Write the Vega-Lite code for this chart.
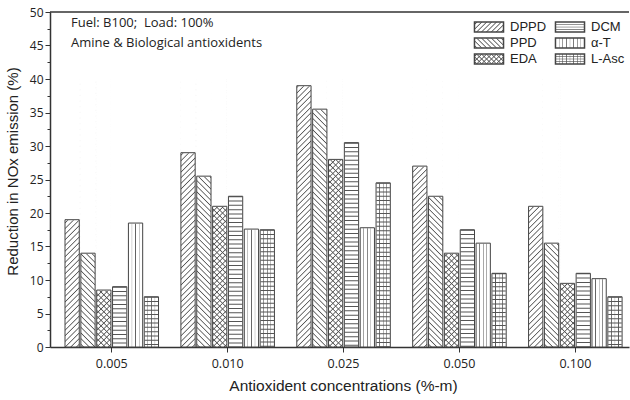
{
"$schema":"https://vega.github.io/schema/vega-lite/v6.json",
"width":579,"height":335,"autosize":"none",
"padding":{"left":50,"top":12,"right":1,"bottom":53},
"background":"white",
"params":[
 {"name":"gSlash","value":{"gradient":"linear","x1":0,"y1":0,"x2":1.202,"y2":0.4145,"stops":[{"offset":0.0325,"color":"#fff"},{"offset":0.0625,"color":"#555"},{"offset":0.0925,"color":"#fff"},{"offset":0.1575,"color":"#fff"},{"offset":0.1875,"color":"#555"},{"offset":0.2175,"color":"#fff"},{"offset":0.2825,"color":"#fff"},{"offset":0.3125,"color":"#555"},{"offset":0.3425,"color":"#fff"},{"offset":0.4075,"color":"#fff"},{"offset":0.4375,"color":"#555"},{"offset":0.4675,"color":"#fff"},{"offset":0.5325,"color":"#fff"},{"offset":0.5625,"color":"#555"},{"offset":0.5925,"color":"#fff"},{"offset":0.6575,"color":"#fff"},{"offset":0.6875,"color":"#555"},{"offset":0.7175,"color":"#fff"},{"offset":0.7825,"color":"#fff"},{"offset":0.8125,"color":"#555"},{"offset":0.8425,"color":"#fff"},{"offset":0.9075,"color":"#fff"},{"offset":0.9375,"color":"#555"},{"offset":0.9675,"color":"#fff"}]}},
 {"name":"gVert","value":{"gradient":"linear","x1":0,"y1":0,"x2":1,"y2":0,"stops":[{"offset":0.105,"color":"#fff"},{"offset":0.125,"color":"#555"},{"offset":0.145,"color":"#fff"},{"offset":0.23,"color":"#fff"},{"offset":0.25,"color":"#555"},{"offset":0.27,"color":"#fff"},{"offset":0.355,"color":"#fff"},{"offset":0.375,"color":"#555"},{"offset":0.395,"color":"#fff"},{"offset":0.48,"color":"#fff"},{"offset":0.5,"color":"#555"},{"offset":0.52,"color":"#fff"},{"offset":0.605,"color":"#fff"},{"offset":0.625,"color":"#555"},{"offset":0.645,"color":"#fff"},{"offset":0.73,"color":"#fff"},{"offset":0.75,"color":"#555"},{"offset":0.77,"color":"#fff"},{"offset":0.855,"color":"#fff"},{"offset":0.875,"color":"#555"},{"offset":0.895,"color":"#fff"}]}},
 {"name":"gBack","value":{"gradient":"linear","x1":0,"y1":1,"x2":1.202,"y2":0.5855,"stops":[{"offset":0.0325,"color":"rgba(85,85,85,0)"},{"offset":0.0625,"color":"#555"},{"offset":0.0925,"color":"rgba(85,85,85,0)"},{"offset":0.1575,"color":"rgba(85,85,85,0)"},{"offset":0.1875,"color":"#555"},{"offset":0.2175,"color":"rgba(85,85,85,0)"},{"offset":0.2825,"color":"rgba(85,85,85,0)"},{"offset":0.3125,"color":"#555"},{"offset":0.3425,"color":"rgba(85,85,85,0)"},{"offset":0.4075,"color":"rgba(85,85,85,0)"},{"offset":0.4375,"color":"#555"},{"offset":0.4675,"color":"rgba(85,85,85,0)"},{"offset":0.5325,"color":"rgba(85,85,85,0)"},{"offset":0.5625,"color":"#555"},{"offset":0.5925,"color":"rgba(85,85,85,0)"},{"offset":0.6575,"color":"rgba(85,85,85,0)"},{"offset":0.6875,"color":"#555"},{"offset":0.7175,"color":"rgba(85,85,85,0)"},{"offset":0.7825,"color":"rgba(85,85,85,0)"},{"offset":0.8125,"color":"#555"},{"offset":0.8425,"color":"rgba(85,85,85,0)"},{"offset":0.9075,"color":"rgba(85,85,85,0)"},{"offset":0.9375,"color":"#555"},{"offset":0.9675,"color":"rgba(85,85,85,0)"}]}},
 {"name":"gHoriz","value":{"gradient":"linear","x1":0,"y1":0,"x2":0,"y2":1,"stops":[{"offset":0.2,"color":"rgba(85,85,85,0)"},{"offset":0.27,"color":"#555"},{"offset":0.34,"color":"rgba(85,85,85,0)"},{"offset":0.43,"color":"rgba(85,85,85,0)"},{"offset":0.5,"color":"#555"},{"offset":0.57,"color":"rgba(85,85,85,0)"},{"offset":0.66,"color":"rgba(85,85,85,0)"},{"offset":0.73,"color":"#555"},{"offset":0.8,"color":"rgba(85,85,85,0)"}]}}
],
"config":{"view":{"stroke":null},"font":"Liberation Sans",
 "axis":{"labelFont":"Open Sans","labelColor":"#222","tickColor":"#333","domainColor":"#333","domainWidth":1.5,"titleFont":"Liberation Sans","titleFontWeight":"normal","titleColor":"#222","titleFontSize":15.5,"grid":false,"zindex":1},
 "axisX":{"labelAngle":0,"labelFontSize":12.5,"labelPadding":5,"tickSize":5,"titlePadding":9,"titleX":293},
 "axisY":{"labelFontSize":12,"labelPadding":2,"titlePadding":9,"titleFontSize":15,"titleY":159}},
"title":{"text":["Fuel: B100;\u00a0 Load: 100%","Amine & Biological antioxidents"],"anchor":"start","frame":"group","orient":"top","offset":-44,"dx":21,"font":"Open Sans","fontSize":13,"fontWeight":"normal","color":"#222","lineHeight":20,"baseline":"top"},
"data":{"values":[
{"conc":"0.005","series":"DPPD","value":19},{"conc":"0.005","series":"PPD","value":14},{"conc":"0.005","series":"EDA","value":8.5},{"conc":"0.005","series":"DCM","value":9},{"conc":"0.005","series":"α-T","value":18.5},{"conc":"0.005","series":"L-Asc","value":7.5},
{"conc":"0.010","series":"DPPD","value":29},{"conc":"0.010","series":"PPD","value":25.5},{"conc":"0.010","series":"EDA","value":21},{"conc":"0.010","series":"DCM","value":22.5},{"conc":"0.010","series":"α-T","value":17.6},{"conc":"0.010","series":"L-Asc","value":17.5},
{"conc":"0.025","series":"DPPD","value":39},{"conc":"0.025","series":"PPD","value":35.5},{"conc":"0.025","series":"EDA","value":28},{"conc":"0.025","series":"DCM","value":30.5},{"conc":"0.025","series":"α-T","value":17.8},{"conc":"0.025","series":"L-Asc","value":24.5},
{"conc":"0.050","series":"DPPD","value":27},{"conc":"0.050","series":"PPD","value":22.5},{"conc":"0.050","series":"EDA","value":14},{"conc":"0.050","series":"DCM","value":17.5},{"conc":"0.050","series":"α-T","value":15.5},{"conc":"0.050","series":"L-Asc","value":11},
{"conc":"0.100","series":"DPPD","value":21},{"conc":"0.100","series":"PPD","value":15.5},{"conc":"0.100","series":"EDA","value":9.5},{"conc":"0.100","series":"DCM","value":11},{"conc":"0.100","series":"α-T","value":10.2},{"conc":"0.100","series":"L-Asc","value":7.5}
]},
"layer":[
{"transform":[{"filter":"datum.series==='DPPD'||datum.series==='EDA'"}],
 "mark":{"type":"bar","fill":{"gradient":"linear","x1":0,"y1":0,"x2":0.0559,"y2":1.0503,"stops":[
{"offset":0.006,"color":"#fff"},{"offset":0.010,"color":"#555"},{"offset":0.014,"color":"#fff"},
{"offset":0.026,"color":"#fff"},{"offset":0.030,"color":"#555"},{"offset":0.034,"color":"#fff"},
{"offset":0.046,"color":"#fff"},{"offset":0.050,"color":"#555"},{"offset":0.054,"color":"#fff"},
{"offset":0.066,"color":"#fff"},{"offset":0.070,"color":"#555"},{"offset":0.074,"color":"#fff"},
{"offset":0.086,"color":"#fff"},{"offset":0.090,"color":"#555"},{"offset":0.094,"color":"#fff"},
{"offset":0.106,"color":"#fff"},{"offset":0.110,"color":"#555"},{"offset":0.114,"color":"#fff"},
{"offset":0.126,"color":"#fff"},{"offset":0.130,"color":"#555"},{"offset":0.134,"color":"#fff"},
{"offset":0.146,"color":"#fff"},{"offset":0.150,"color":"#555"},{"offset":0.154,"color":"#fff"},
{"offset":0.166,"color":"#fff"},{"offset":0.170,"color":"#555"},{"offset":0.174,"color":"#fff"},
{"offset":0.186,"color":"#fff"},{"offset":0.190,"color":"#555"},{"offset":0.194,"color":"#fff"},
{"offset":0.206,"color":"#fff"},{"offset":0.210,"color":"#555"},{"offset":0.214,"color":"#fff"},
{"offset":0.226,"color":"#fff"},{"offset":0.230,"color":"#555"},{"offset":0.234,"color":"#fff"},
{"offset":0.246,"color":"#fff"},{"offset":0.250,"color":"#555"},{"offset":0.254,"color":"#fff"},
{"offset":0.266,"color":"#fff"},{"offset":0.270,"color":"#555"},{"offset":0.274,"color":"#fff"},
{"offset":0.286,"color":"#fff"},{"offset":0.290,"color":"#555"},{"offset":0.294,"color":"#fff"},
{"offset":0.306,"color":"#fff"},{"offset":0.310,"color":"#555"},{"offset":0.314,"color":"#fff"},
{"offset":0.326,"color":"#fff"},{"offset":0.330,"color":"#555"},{"offset":0.334,"color":"#fff"},
{"offset":0.346,"color":"#fff"},{"offset":0.350,"color":"#555"},{"offset":0.354,"color":"#fff"},
{"offset":0.366,"color":"#fff"},{"offset":0.370,"color":"#555"},{"offset":0.374,"color":"#fff"},
{"offset":0.386,"color":"#fff"},{"offset":0.390,"color":"#555"},{"offset":0.394,"color":"#fff"},
{"offset":0.406,"color":"#fff"},{"offset":0.410,"color":"#555"},{"offset":0.414,"color":"#fff"},
{"offset":0.426,"color":"#fff"},{"offset":0.430,"color":"#555"},{"offset":0.434,"color":"#fff"},
{"offset":0.446,"color":"#fff"},{"offset":0.450,"color":"#555"},{"offset":0.454,"color":"#fff"},
{"offset":0.466,"color":"#fff"},{"offset":0.470,"color":"#555"},{"offset":0.474,"color":"#fff"},
{"offset":0.486,"color":"#fff"},{"offset":0.490,"color":"#555"},{"offset":0.494,"color":"#fff"},
{"offset":0.506,"color":"#fff"},{"offset":0.510,"color":"#555"},{"offset":0.514,"color":"#fff"},
{"offset":0.526,"color":"#fff"},{"offset":0.530,"color":"#555"},{"offset":0.534,"color":"#fff"},
{"offset":0.546,"color":"#fff"},{"offset":0.550,"color":"#555"},{"offset":0.554,"color":"#fff"},
{"offset":0.566,"color":"#fff"},{"offset":0.570,"color":"#555"},{"offset":0.574,"color":"#fff"},
{"offset":0.586,"color":"#fff"},{"offset":0.590,"color":"#555"},{"offset":0.594,"color":"#fff"},
{"offset":0.606,"color":"#fff"},{"offset":0.610,"color":"#555"},{"offset":0.614,"color":"#fff"},
{"offset":0.626,"color":"#fff"},{"offset":0.630,"color":"#555"},{"offset":0.634,"color":"#fff"},
{"offset":0.646,"color":"#fff"},{"offset":0.650,"color":"#555"},{"offset":0.654,"color":"#fff"},
{"offset":0.666,"color":"#fff"},{"offset":0.670,"color":"#555"},{"offset":0.674,"color":"#fff"},
{"offset":0.686,"color":"#fff"},{"offset":0.690,"color":"#555"},{"offset":0.694,"color":"#fff"},
{"offset":0.706,"color":"#fff"},{"offset":0.710,"color":"#555"},{"offset":0.714,"color":"#fff"},
{"offset":0.726,"color":"#fff"},{"offset":0.730,"color":"#555"},{"offset":0.734,"color":"#fff"},
{"offset":0.746,"color":"#fff"},{"offset":0.750,"color":"#555"},{"offset":0.754,"color":"#fff"},
{"offset":0.766,"color":"#fff"},{"offset":0.770,"color":"#555"},{"offset":0.774,"color":"#fff"},
{"offset":0.786,"color":"#fff"},{"offset":0.790,"color":"#555"},{"offset":0.794,"color":"#fff"},
{"offset":0.806,"color":"#fff"},{"offset":0.810,"color":"#555"},{"offset":0.814,"color":"#fff"},
{"offset":0.826,"color":"#fff"},{"offset":0.830,"color":"#555"},{"offset":0.834,"color":"#fff"},
{"offset":0.846,"color":"#fff"},{"offset":0.850,"color":"#555"},{"offset":0.854,"color":"#fff"},
{"offset":0.866,"color":"#fff"},{"offset":0.870,"color":"#555"},{"offset":0.874,"color":"#fff"},
{"offset":0.886,"color":"#fff"},{"offset":0.890,"color":"#555"},{"offset":0.894,"color":"#fff"},
{"offset":0.906,"color":"#fff"},{"offset":0.910,"color":"#555"},{"offset":0.914,"color":"#fff"},
{"offset":0.926,"color":"#fff"},{"offset":0.930,"color":"#555"},{"offset":0.934,"color":"#fff"},
{"offset":0.946,"color":"#fff"},{"offset":0.950,"color":"#555"},{"offset":0.954,"color":"#fff"},
{"offset":0.966,"color":"#fff"},{"offset":0.970,"color":"#555"},{"offset":0.974,"color":"#fff"},
{"offset":0.986,"color":"#fff"},{"offset":0.990,"color":"#555"},{"offset":0.994,"color":"#fff"}]}},
 "encoding":{
  "x":{"field":"conc","type":"nominal","scale":{"domain":["0.005","0.010","0.025","0.050","0.100"],"paddingInner":0.193,"paddingOuter":0.0945,"align":0.685},"axis":{"title":"Antioxident concentrations (%-m)"}},
  "xOffset":{"field":"series","type":"nominal","scale":{"domain":["DPPD","PPD","EDA","DCM","α-T","L-Asc"],"paddingInner":0.1,"paddingOuter":0}},
  "y":{"datum":40,"type":"quantitative","scale":{"domain":[0,50],"nice":false},"axis":{"title":"Reduction in NOx emission (%)","values":[0,2.5,5,7.5,10,12.5,15,17.5,20,22.5,25,27.5,30,32.5,35,37.5,40,42.5,45,47.5,50],"labelExpr":"datum.value % 5 === 0 ? datum.value + '' : ''","tickSize":{"condition":{"test":"datum.value % 5 === 0","value":5},"value":3}}},
  "y2":{"datum":0}}},
{"transform":[{"filter":"datum.series==='PPD'||datum.series==='EDA'"}],
 "mark":{"type":"bar","fill":{"gradient":"linear","x1":0,"y1":1,"x2":0.0559,"y2":-0.0503,"stops":[
{"offset":0.006,"color":"rgba(85,85,85,0)"},{"offset":0.010,"color":"#555"},{"offset":0.014,"color":"rgba(85,85,85,0)"},
{"offset":0.026,"color":"rgba(85,85,85,0)"},{"offset":0.030,"color":"#555"},{"offset":0.034,"color":"rgba(85,85,85,0)"},
{"offset":0.046,"color":"rgba(85,85,85,0)"},{"offset":0.050,"color":"#555"},{"offset":0.054,"color":"rgba(85,85,85,0)"},
{"offset":0.066,"color":"rgba(85,85,85,0)"},{"offset":0.070,"color":"#555"},{"offset":0.074,"color":"rgba(85,85,85,0)"},
{"offset":0.086,"color":"rgba(85,85,85,0)"},{"offset":0.090,"color":"#555"},{"offset":0.094,"color":"rgba(85,85,85,0)"},
{"offset":0.106,"color":"rgba(85,85,85,0)"},{"offset":0.110,"color":"#555"},{"offset":0.114,"color":"rgba(85,85,85,0)"},
{"offset":0.126,"color":"rgba(85,85,85,0)"},{"offset":0.130,"color":"#555"},{"offset":0.134,"color":"rgba(85,85,85,0)"},
{"offset":0.146,"color":"rgba(85,85,85,0)"},{"offset":0.150,"color":"#555"},{"offset":0.154,"color":"rgba(85,85,85,0)"},
{"offset":0.166,"color":"rgba(85,85,85,0)"},{"offset":0.170,"color":"#555"},{"offset":0.174,"color":"rgba(85,85,85,0)"},
{"offset":0.186,"color":"rgba(85,85,85,0)"},{"offset":0.190,"color":"#555"},{"offset":0.194,"color":"rgba(85,85,85,0)"},
{"offset":0.206,"color":"rgba(85,85,85,0)"},{"offset":0.210,"color":"#555"},{"offset":0.214,"color":"rgba(85,85,85,0)"},
{"offset":0.226,"color":"rgba(85,85,85,0)"},{"offset":0.230,"color":"#555"},{"offset":0.234,"color":"rgba(85,85,85,0)"},
{"offset":0.246,"color":"rgba(85,85,85,0)"},{"offset":0.250,"color":"#555"},{"offset":0.254,"color":"rgba(85,85,85,0)"},
{"offset":0.266,"color":"rgba(85,85,85,0)"},{"offset":0.270,"color":"#555"},{"offset":0.274,"color":"rgba(85,85,85,0)"},
{"offset":0.286,"color":"rgba(85,85,85,0)"},{"offset":0.290,"color":"#555"},{"offset":0.294,"color":"rgba(85,85,85,0)"},
{"offset":0.306,"color":"rgba(85,85,85,0)"},{"offset":0.310,"color":"#555"},{"offset":0.314,"color":"rgba(85,85,85,0)"},
{"offset":0.326,"color":"rgba(85,85,85,0)"},{"offset":0.330,"color":"#555"},{"offset":0.334,"color":"rgba(85,85,85,0)"},
{"offset":0.346,"color":"rgba(85,85,85,0)"},{"offset":0.350,"color":"#555"},{"offset":0.354,"color":"rgba(85,85,85,0)"},
{"offset":0.366,"color":"rgba(85,85,85,0)"},{"offset":0.370,"color":"#555"},{"offset":0.374,"color":"rgba(85,85,85,0)"},
{"offset":0.386,"color":"rgba(85,85,85,0)"},{"offset":0.390,"color":"#555"},{"offset":0.394,"color":"rgba(85,85,85,0)"},
{"offset":0.406,"color":"rgba(85,85,85,0)"},{"offset":0.410,"color":"#555"},{"offset":0.414,"color":"rgba(85,85,85,0)"},
{"offset":0.426,"color":"rgba(85,85,85,0)"},{"offset":0.430,"color":"#555"},{"offset":0.434,"color":"rgba(85,85,85,0)"},
{"offset":0.446,"color":"rgba(85,85,85,0)"},{"offset":0.450,"color":"#555"},{"offset":0.454,"color":"rgba(85,85,85,0)"},
{"offset":0.466,"color":"rgba(85,85,85,0)"},{"offset":0.470,"color":"#555"},{"offset":0.474,"color":"rgba(85,85,85,0)"},
{"offset":0.486,"color":"rgba(85,85,85,0)"},{"offset":0.490,"color":"#555"},{"offset":0.494,"color":"rgba(85,85,85,0)"},
{"offset":0.506,"color":"rgba(85,85,85,0)"},{"offset":0.510,"color":"#555"},{"offset":0.514,"color":"rgba(85,85,85,0)"},
{"offset":0.526,"color":"rgba(85,85,85,0)"},{"offset":0.530,"color":"#555"},{"offset":0.534,"color":"rgba(85,85,85,0)"},
{"offset":0.546,"color":"rgba(85,85,85,0)"},{"offset":0.550,"color":"#555"},{"offset":0.554,"color":"rgba(85,85,85,0)"},
{"offset":0.566,"color":"rgba(85,85,85,0)"},{"offset":0.570,"color":"#555"},{"offset":0.574,"color":"rgba(85,85,85,0)"},
{"offset":0.586,"color":"rgba(85,85,85,0)"},{"offset":0.590,"color":"#555"},{"offset":0.594,"color":"rgba(85,85,85,0)"},
{"offset":0.606,"color":"rgba(85,85,85,0)"},{"offset":0.610,"color":"#555"},{"offset":0.614,"color":"rgba(85,85,85,0)"},
{"offset":0.626,"color":"rgba(85,85,85,0)"},{"offset":0.630,"color":"#555"},{"offset":0.634,"color":"rgba(85,85,85,0)"},
{"offset":0.646,"color":"rgba(85,85,85,0)"},{"offset":0.650,"color":"#555"},{"offset":0.654,"color":"rgba(85,85,85,0)"},
{"offset":0.666,"color":"rgba(85,85,85,0)"},{"offset":0.670,"color":"#555"},{"offset":0.674,"color":"rgba(85,85,85,0)"},
{"offset":0.686,"color":"rgba(85,85,85,0)"},{"offset":0.690,"color":"#555"},{"offset":0.694,"color":"rgba(85,85,85,0)"},
{"offset":0.706,"color":"rgba(85,85,85,0)"},{"offset":0.710,"color":"#555"},{"offset":0.714,"color":"rgba(85,85,85,0)"},
{"offset":0.726,"color":"rgba(85,85,85,0)"},{"offset":0.730,"color":"#555"},{"offset":0.734,"color":"rgba(85,85,85,0)"},
{"offset":0.746,"color":"rgba(85,85,85,0)"},{"offset":0.750,"color":"#555"},{"offset":0.754,"color":"rgba(85,85,85,0)"},
{"offset":0.766,"color":"rgba(85,85,85,0)"},{"offset":0.770,"color":"#555"},{"offset":0.774,"color":"rgba(85,85,85,0)"},
{"offset":0.786,"color":"rgba(85,85,85,0)"},{"offset":0.790,"color":"#555"},{"offset":0.794,"color":"rgba(85,85,85,0)"},
{"offset":0.806,"color":"rgba(85,85,85,0)"},{"offset":0.810,"color":"#555"},{"offset":0.814,"color":"rgba(85,85,85,0)"},
{"offset":0.826,"color":"rgba(85,85,85,0)"},{"offset":0.830,"color":"#555"},{"offset":0.834,"color":"rgba(85,85,85,0)"},
{"offset":0.846,"color":"rgba(85,85,85,0)"},{"offset":0.850,"color":"#555"},{"offset":0.854,"color":"rgba(85,85,85,0)"},
{"offset":0.866,"color":"rgba(85,85,85,0)"},{"offset":0.870,"color":"#555"},{"offset":0.874,"color":"rgba(85,85,85,0)"},
{"offset":0.886,"color":"rgba(85,85,85,0)"},{"offset":0.890,"color":"#555"},{"offset":0.894,"color":"rgba(85,85,85,0)"},
{"offset":0.906,"color":"rgba(85,85,85,0)"},{"offset":0.910,"color":"#555"},{"offset":0.914,"color":"rgba(85,85,85,0)"},
{"offset":0.926,"color":"rgba(85,85,85,0)"},{"offset":0.930,"color":"#555"},{"offset":0.934,"color":"rgba(85,85,85,0)"},
{"offset":0.946,"color":"rgba(85,85,85,0)"},{"offset":0.950,"color":"#555"},{"offset":0.954,"color":"rgba(85,85,85,0)"},
{"offset":0.966,"color":"rgba(85,85,85,0)"},{"offset":0.970,"color":"#555"},{"offset":0.974,"color":"rgba(85,85,85,0)"},
{"offset":0.986,"color":"rgba(85,85,85,0)"},{"offset":0.990,"color":"#555"},{"offset":0.994,"color":"rgba(85,85,85,0)"}]}},
 "encoding":{
  "x":{"field":"conc","type":"nominal","scale":{"domain":["0.005","0.010","0.025","0.050","0.100"],"paddingInner":0.193,"paddingOuter":0.0945,"align":0.685},"axis":{"title":"Antioxident concentrations (%-m)"}},
  "xOffset":{"field":"series","type":"nominal","scale":{"domain":["DPPD","PPD","EDA","DCM","α-T","L-Asc"],"paddingInner":0.1,"paddingOuter":0}},
  "y":{"datum":40,"type":"quantitative","scale":{"domain":[0,50],"nice":false},"axis":{"title":"Reduction in NOx emission (%)","values":[0,2.5,5,7.5,10,12.5,15,17.5,20,22.5,25,27.5,30,32.5,35,37.5,40,42.5,45,47.5,50],"labelExpr":"datum.value % 5 === 0 ? datum.value + '' : ''","tickSize":{"condition":{"test":"datum.value % 5 === 0","value":5},"value":3}}},
  "y2":{"datum":0}}},
{"transform":[{"filter":"datum.series==='α-T'||datum.series==='L-Asc'"}],
 "mark":{"type":"bar","fill":{"gradient":"linear","x1":0,"y1":0,"x2":1,"y2":0,"stops":[
{"offset":0.21,"color":"#fff"},{"offset":0.25,"color":"#555"},{"offset":0.29,"color":"#fff"},
{"offset":0.46,"color":"#fff"},{"offset":0.50,"color":"#555"},{"offset":0.54,"color":"#fff"},
{"offset":0.71,"color":"#fff"},{"offset":0.75,"color":"#555"},{"offset":0.79,"color":"#fff"}]}},
 "encoding":{
  "x":{"field":"conc","type":"nominal","scale":{"domain":["0.005","0.010","0.025","0.050","0.100"],"paddingInner":0.193,"paddingOuter":0.0945,"align":0.685},"axis":{"title":"Antioxident concentrations (%-m)"}},
  "xOffset":{"field":"series","type":"nominal","scale":{"domain":["DPPD","PPD","EDA","DCM","α-T","L-Asc"],"paddingInner":0.1,"paddingOuter":0}},
  "y":{"datum":40,"type":"quantitative","scale":{"domain":[0,50],"nice":false},"axis":{"title":"Reduction in NOx emission (%)","values":[0,2.5,5,7.5,10,12.5,15,17.5,20,22.5,25,27.5,30,32.5,35,37.5,40,42.5,45,47.5,50],"labelExpr":"datum.value % 5 === 0 ? datum.value + '' : ''","tickSize":{"condition":{"test":"datum.value % 5 === 0","value":5},"value":3}}},
  "y2":{"datum":0}}},
{"mark":{"type":"bar","fill":"#fff","stroke":"#fff","strokeWidth":1.2},
 "encoding":{
  "x":{"field":"conc","type":"nominal","scale":{"domain":["0.005","0.010","0.025","0.050","0.100"],"paddingInner":0.193,"paddingOuter":0.0945,"align":0.685},"axis":{"title":"Antioxident concentrations (%-m)"}},
  "xOffset":{"field":"series","type":"nominal","scale":{"domain":["DPPD","PPD","EDA","DCM","α-T","L-Asc"],"paddingInner":0.1,"paddingOuter":0}},
  "y":{"field":"value","type":"quantitative","scale":{"domain":[0,50],"nice":false},"axis":{"title":"Reduction in NOx emission (%)","values":[0,2.5,5,7.5,10,12.5,15,17.5,20,22.5,25,27.5,30,32.5,35,37.5,40,42.5,45,47.5,50],"labelExpr":"datum.value % 5 === 0 ? datum.value + '' : ''","tickSize":{"condition":{"test":"datum.value % 5 === 0","value":5},"value":3}}},
  "y2":{"datum":40.3}}},
{"transform":[{"filter":"datum.series==='DCM'||datum.series==='L-Asc'"}],
 "mark":{"type":"rule","color":"#555","strokeWidth":13.4,"strokeDash":[1,3.3],"strokeCap":"butt"},
 "encoding":{
  "x":{"field":"conc","type":"nominal","scale":{"domain":["0.005","0.010","0.025","0.050","0.100"],"paddingInner":0.193,"paddingOuter":0.0945,"align":0.685},"axis":{"title":"Antioxident concentrations (%-m)"}},
  "xOffset":{"field":"series","type":"nominal","scale":{"domain":["DPPD","PPD","EDA","DCM","α-T","L-Asc"],"paddingInner":0.1,"paddingOuter":0}},
  "y":{"field":"value","type":"quantitative","scale":{"domain":[0,50],"nice":false},"axis":{"title":"Reduction in NOx emission (%)","values":[0,2.5,5,7.5,10,12.5,15,17.5,20,22.5,25,27.5,30,32.5,35,37.5,40,42.5,45,47.5,50],"labelExpr":"datum.value % 5 === 0 ? datum.value + '' : ''","tickSize":{"condition":{"test":"datum.value % 5 === 0","value":5},"value":3}}},
  "y2":{"datum":0}}},
{"mark":{"type":"bar","fill":"transparent","stroke":"#444","strokeWidth":1},
 "encoding":{
  "x":{"field":"conc","type":"nominal","scale":{"domain":["0.005","0.010","0.025","0.050","0.100"],"paddingInner":0.193,"paddingOuter":0.0945,"align":0.685},"axis":{"title":"Antioxident concentrations (%-m)"}},
  "xOffset":{"field":"series","type":"nominal","scale":{"domain":["DPPD","PPD","EDA","DCM","α-T","L-Asc"],"paddingInner":0.1,"paddingOuter":0}},
  "y":{"field":"value","type":"quantitative","scale":{"domain":[0,50],"nice":false},"axis":{"title":"Reduction in NOx emission (%)","values":[0,2.5,5,7.5,10,12.5,15,17.5,20,22.5,25,27.5,30,32.5,35,37.5,40,42.5,45,47.5,50],"labelExpr":"datum.value % 5 === 0 ? datum.value + '' : ''","tickSize":{"condition":{"test":"datum.value % 5 === 0","value":5},"value":3}}},
  "y2":{"datum":0}}},
{"data":{"values":[{}]},
 "mark":{"type":"rule","color":"#333","strokeWidth":1.5},
 "encoding":{"y":{"datum":50,"type":"quantitative","scale":{"domain":[0,50],"nice":false},"axis":{"title":"Reduction in NOx emission (%)","values":[0,2.5,5,7.5,10,12.5,15,17.5,20,22.5,25,27.5,30,32.5,35,37.5,40,42.5,45,47.5,50],"labelExpr":"datum.value % 5 === 0 ? datum.value + '' : ''","tickSize":{"condition":{"test":"datum.value % 5 === 0","value":5},"value":3}}}}},
{"mark":{"type":"point","filled":true,"opacity":0,"stroke":"#444","strokeWidth":0.8,"fill":{"expr":"indexof(['DPPD','EDA'], datum.value) >= 0 ? gSlash : (indexof(['α-T','L-Asc'], datum.value) >= 0 ? gVert : '#fff')"}},
 "encoding":{
  "x":{"field":"conc","type":"nominal","scale":{"domain":["0.005","0.010","0.025","0.050","0.100"],"paddingInner":0.193,"paddingOuter":0.0945,"align":0.685},"axis":{"title":"Antioxident concentrations (%-m)"}},
  "xOffset":{"field":"series","type":"nominal","scale":{"domain":["DPPD","PPD","EDA","DCM","α-T","L-Asc"],"paddingInner":0.1,"paddingOuter":0}},
  "y":{"datum":0,"type":"quantitative","scale":{"domain":[0,50],"nice":false},"axis":{"title":"Reduction in NOx emission (%)","values":[0,2.5,5,7.5,10,12.5,15,17.5,20,22.5,25,27.5,30,32.5,35,37.5,40,42.5,45,47.5,50],"labelExpr":"datum.value % 5 === 0 ? datum.value + '' : ''","tickSize":{"condition":{"test":"datum.value % 5 === 0","value":5},"value":3}}},
  "shape":{"field":"series","type":"nominal","scale":{"domain":["DPPD","PPD","EDA","DCM","α-T","L-Asc"],"range":["M-2.5,-0.85H2.5V0.85H-2.5Z","M-2.5,-0.85H2.5V0.85H-2.5Z","M-2.5,-0.85H2.5V0.85H-2.5Z","M-2.5,-0.85H2.5V0.85H-2.5Z","M-2.5,-0.85H2.5V0.85H-2.5Z","M-2.5,-0.85H2.5V0.85H-2.5Z"]},
  "legend":{"orient":"none","legendX":432,"legendY":8,"columns":2,"title":null,"symbolSize":135,"symbolOpacity":1,"labelFont":"Liberation Sans","labelFontSize":13,"labelColor":"#222","columnPadding":5,"rowPadding":0,"labelOffset":14,"padding":0}}}},
{"mark":{"type":"point","filled":true,"opacity":0,"stroke":"transparent","strokeWidth":0,"fill":{"expr":"indexof(['PPD','EDA'], datum.value) >= 0 ? gBack : (indexof(['DCM','L-Asc'], datum.value) >= 0 ? gHoriz : 'transparent')"}},
 "encoding":{
  "x":{"field":"conc","type":"nominal","scale":{"domain":["0.005","0.010","0.025","0.050","0.100"],"paddingInner":0.193,"paddingOuter":0.0945,"align":0.685},"axis":{"title":"Antioxident concentrations (%-m)"}},
  "xOffset":{"field":"series","type":"nominal","scale":{"domain":["DPPD","PPD","EDA","DCM","α-T","L-Asc"],"paddingInner":0.1,"paddingOuter":0}},
  "y":{"datum":0,"type":"quantitative","scale":{"domain":[0,50],"nice":false},"axis":{"title":"Reduction in NOx emission (%)","values":[0,2.5,5,7.5,10,12.5,15,17.5,20,22.5,25,27.5,30,32.5,35,37.5,40,42.5,45,47.5,50],"labelExpr":"datum.value % 5 === 0 ? datum.value + '' : ''","tickSize":{"condition":{"test":"datum.value % 5 === 0","value":5},"value":3}}},
  "shape":{"field":"series","type":"nominal","scale":{"domain":["DPPD","PPD","EDA","DCM","α-T","L-Asc"],"range":["M-2.5,-0.85H2.5V0.85H-2.5Z","M-2.5,-0.85H2.5V0.85H-2.5Z","M-2.5,-0.85H2.5V0.85H-2.5Z","M-2.5,-0.85H2.5V0.85H-2.5Z","M-2.5,-0.85H2.5V0.85H-2.5Z","M-2.5,-0.85H2.5V0.85H-2.5Z"]},
  "legend":{"orient":"none","legendX":432,"legendY":8,"columns":2,"title":null,"symbolSize":135,"symbolOpacity":1,"labelFont":"Liberation Sans","labelFontSize":13,"labelColor":"transparent","columnPadding":5,"rowPadding":0,"labelOffset":14,"padding":0}}}}
],
"resolve":{"scale":{"shape":"independent"},"legend":{"shape":"independent"}}
}
